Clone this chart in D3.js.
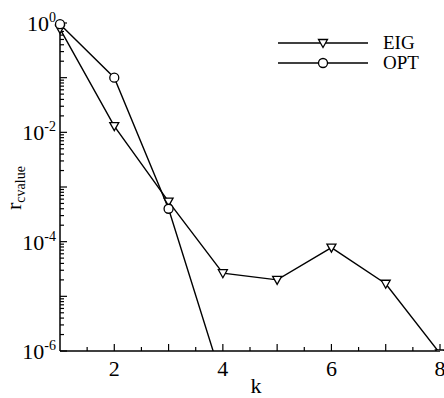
<!DOCTYPE html>
<html>
<head>
<meta charset="utf-8">
<script src="https://cdn.jsdelivr.net/npm/d3@7"></script>
<style>
  body { margin: 0; background: white; }
  svg { display: block; font-family: 'Liberation Serif', 'Times New Roman', serif; }
</style>
</head>
<body>
<div id="chart"></div>
<script>
// Data
const kValues = [1, 2, 3, 4, 5, 6, 7, 8];
const eigValues = [0.78, 0.013, 5.4e-4, 2.65e-5, 2.0e-5, 7.8e-5, 1.7e-5, 9e-7];
const optK = [1, 2, 3, 4];
const optValues = [0.95, 0.1, 4.0e-4, 2.7e-7];
const xTickLabels = [2, 4, 6, 8];
const yTickExponents = [0, -2, -4, -6];
const seriesNames = ['EIG', 'OPT'];

const width = 444;
const height = 398;
const margin = { top: 23, right: 4, bottom: 47, left: 60 };
const plotWidth = width - margin.left - margin.right;
const plotHeight = height - margin.top - margin.bottom;

const svg = d3.select('#chart')
  .append('svg')
  .attr('width', width)
  .attr('height', height);

const g = svg.append('g')
  .attr('transform', `translate(${margin.left},${margin.top})`);

// Scales
const x = d3.scaleLinear().domain([1, 8]).range([0, plotWidth]);
const y = d3.scaleLog().domain([1e-6, 1]).range([plotHeight, 0]);

// Clip below the bottom axis
svg.append('defs').append('clipPath')
  .attr('id', 'clip')
  .append('rect')
  .attr('x', -margin.left)
  .attr('y', -margin.top)
  .attr('width', width)
  .attr('height', plotHeight + margin.top);

// X axis (ticks pointing inward)
const xMinor = d3.range(1.5, 8.01, 0.5);
const xAxis = g.append('g').attr('transform', `translate(0,${plotHeight})`);
xAxis.append('line')
  .attr('x1', 0).attr('x2', plotWidth)
  .attr('stroke', 'black').attr('stroke-width', 1.5);
xAxis.selectAll('.xtick')
  .data(xMinor)
  .enter()
  .append('line')
  .attr('x1', d => x(d)).attr('x2', d => x(d))
  .attr('y1', 0)
  .attr('y2', d => (d % 1 === 0 ? -7 : -4))
  .attr('stroke', 'black').attr('stroke-width', 1.2);
xAxis.selectAll('.xlabel')
  .data(xTickLabels)
  .enter()
  .append('text')
  .attr('x', d => x(d))
  .attr('y', 25)
  .attr('text-anchor', 'middle')
  .style('font-size', '22px')
  .text(d => d);

// Y axis (log, ticks pointing inward)
const yAxis = g.append('g');
yAxis.append('line')
  .attr('y1', 0).attr('y2', plotHeight)
  .attr('stroke', 'black').attr('stroke-width', 1.5);
const yTicks = [];
for (let e = -6; e < 0; e++) {
  for (let m = 1; m < 10; m++) yTicks.push({ v: m * Math.pow(10, e), major: m === 1 });
}
yTicks.push({ v: 1, major: true });
yAxis.selectAll('.ytick')
  .data(yTicks)
  .enter()
  .append('line')
  .attr('x1', 0)
  .attr('x2', d => (d.major ? 7 : 4))
  .attr('y1', d => y(d.v)).attr('y2', d => y(d.v))
  .attr('stroke', 'black').attr('stroke-width', 1.2);
const yLabels = yAxis.selectAll('.ylabel')
  .data(yTickExponents)
  .enter()
  .append('text')
  .attr('x', -4)
  .attr('y', d => y(Math.pow(10, d)) + 8)
  .attr('text-anchor', 'end')
  .style('font-size', '22px');
yLabels.append('tspan').text('10');
yLabels.append('tspan')
  .attr('dy', -9)
  .style('font-size', '14px')
  .text(d => d);

// Axis titles
g.append('text')
  .attr('x', x(4.5) + 6)
  .attr('y', plotHeight + 42)
  .attr('text-anchor', 'middle')
  .style('font-size', '22px')
  .text('k');

const yTitle = svg.append('text')
  .attr('transform', 'translate(21,210) rotate(-90)')
  .style('font-size', '22px');
yTitle.append('tspan').text('r');
yTitle.append('tspan')
  .attr('dy', 4)
  .style('font-size', '14px')
  .text('cvalue');

// Lines
const line = d3.line()
  .x(d => x(d[0]))
  .y(d => y(d[1]));

const plot = g.append('g').attr('clip-path', 'url(#clip)');

const eigData = kValues.map((k, i) => [k, eigValues[i]]);
const optData = optK.map((k, i) => [k, optValues[i]]);

plot.append('path')
  .datum(eigData)
  .attr('fill', 'none').attr('stroke', 'black').attr('stroke-width', 1.4)
  .attr('d', line);
plot.append('path')
  .datum(optData)
  .attr('fill', 'none').attr('stroke', 'black').attr('stroke-width', 1.4)
  .attr('d', line);

// Markers
const triPath = 'M-4.5,-3.5 L4.5,-3.5 L0,4.5 Z';
plot.selectAll('.tri')
  .data(eigData)
  .enter()
  .append('path')
  .attr('transform', d => `translate(${x(d[0])},${y(d[1])})`)
  .attr('d', triPath)
  .attr('fill', 'white').attr('stroke', 'black').attr('stroke-width', 1.3);
plot.selectAll('.circ')
  .data(optData)
  .enter()
  .append('circle')
  .attr('cx', d => x(d[0]))
  .attr('cy', d => y(d[1]))
  .attr('r', 4.5)
  .attr('fill', 'white').attr('stroke', 'black').attr('stroke-width', 1.3);

// Legend
const legend = svg.append('g').attr('transform', 'translate(278,43)');
seriesNames.forEach((name, i) => {
  const row = legend.append('g').attr('transform', `translate(0,${i * 20})`);
  row.append('line')
    .attr('x1', 0).attr('x2', 90)
    .attr('stroke', 'black').attr('stroke-width', 1.4);
  if (i === 0) {
    row.append('path')
      .attr('transform', 'translate(45,0)')
      .attr('d', triPath)
      .attr('fill', 'white').attr('stroke', 'black').attr('stroke-width', 1.3);
  } else {
    row.append('circle')
      .attr('cx', 45).attr('r', 4.5)
      .attr('fill', 'white').attr('stroke', 'black').attr('stroke-width', 1.3);
  }
  row.append('text')
    .attr('x', 105)
    .attr('y', 6)
    .style('font-size', '19px')
    .text(name);
});
</script>
</body>
</html>
